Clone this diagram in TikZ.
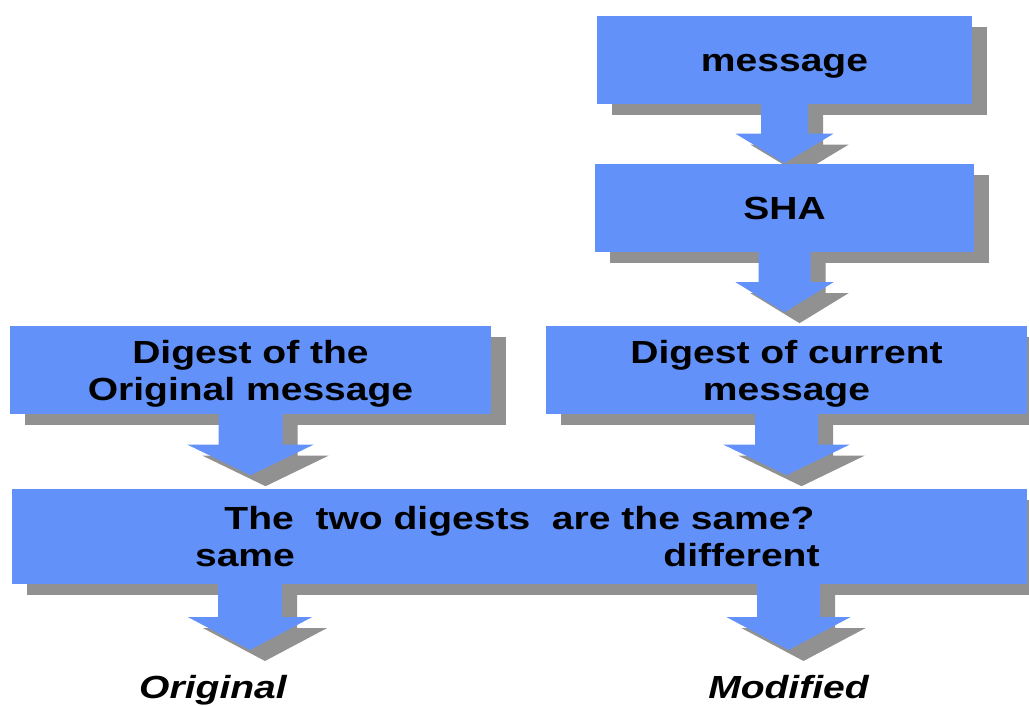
\documentclass[tikz,border=0pt]{standalone}
\usepackage{fontspec}
\setmainfont[FakeStretch=1.22]{Liberation Sans}
\usetikzlibrary{calc,shadows}

\definecolor{boxblue}{RGB}{98,145,250}
\definecolor{shadowgray}{RGB}{145,145,145}

% fat block arrow: from, tip, shaft half width, head half width
\newcommand{\fatarrow}[4]{%
  \fill[arrowfill] ($(#1)+(-#3,0)$) -- ($(#1)!.5!(#2)+(-#3,0)$)
    -- ($(#1)!.5!(#2)+(-#4,0)$) -- (#2)
    -- ($(#1)!.5!(#2)+(#4,0)$) -- ($(#1)!.5!(#2)+(#3,0)$)
    -- ($(#1)+(#3,0)$) -- cycle;}

\begin{document}
\begin{tikzpicture}[x=1pt, y=-1pt,
        flat shadow/.style={drop shadow={fill=shadowgray, opacity=1, shadow xshift=15pt, shadow yshift=-11pt}},
        block/.style={fill=boxblue, flat shadow, minimum height=88pt, inner sep=0pt, align=center,
            text depth=0pt, font=\fontsize{32}{37}\selectfont\bfseries},
        arrowfill/.style={fill=boxblue, flat shadow},
        label/.style={anchor=base, font=\fontsize{32}{37}\selectfont\bfseries},
        result/.style={anchor=base, font=\fontsize{32}{37}\selectfont\bfseries\itshape}
    ]
        \useasboundingbox (0,0) rectangle (1029,706);

        \node [block, minimum width=375pt, text height=23pt] (msg) at (784.5,60) {message};
        \coordinate (msgtip) at ($(msg.south)+(0,59)$);
        \fatarrow{msg.south}{msgtip}{23.5}{49}
        \node [block, minimum width=379pt, text height=23pt] (sha) at (784.5,208) {SHA};
        \coordinate (shatip) at ($(sha.south)+(0,60)$);
        \fatarrow{sha.south}{shatip}{26}{49}

        \node [block, minimum width=481pt] (dorig) at (250.5,370) {Digest of the\\Original message};
        \node [block, minimum width=481pt] (dcur) at (786.5,370) {Digest of current\\message};
        \coordinate (origtip) at ($(dorig.south)+(0,61)$);
        \coordinate (curtip) at ($(dcur.south)+(0,61)$);
        \fatarrow{dorig.south}{origtip}{32}{63}
        \fatarrow{dcur.south}{curtip}{31.5}{63}

        \node [block, minimum width=1015pt, minimum height=95pt] (cmp) at (519.5,536.5) {};
        \node [label] (question) at (519.5,529) {The~ two digests~ are the same?};
        \node [label] (same) at (245,566) {same};
        \node [label] (diff) at (741.5,566) {different};

        \coordinate (sametip) at (250,650);
        \coordinate (difftip) at (788.5,650);
        \fatarrow{cmp.south -| sametip}{sametip}{32}{62}
        \fatarrow{cmp.south -| difftip}{difftip}{31.5}{62}

        \node [result] (orig) at (213,698) {Original};
        \node [result] (mod) at (788.5,698) {Modified};
    \end{tikzpicture}
\end{document}
